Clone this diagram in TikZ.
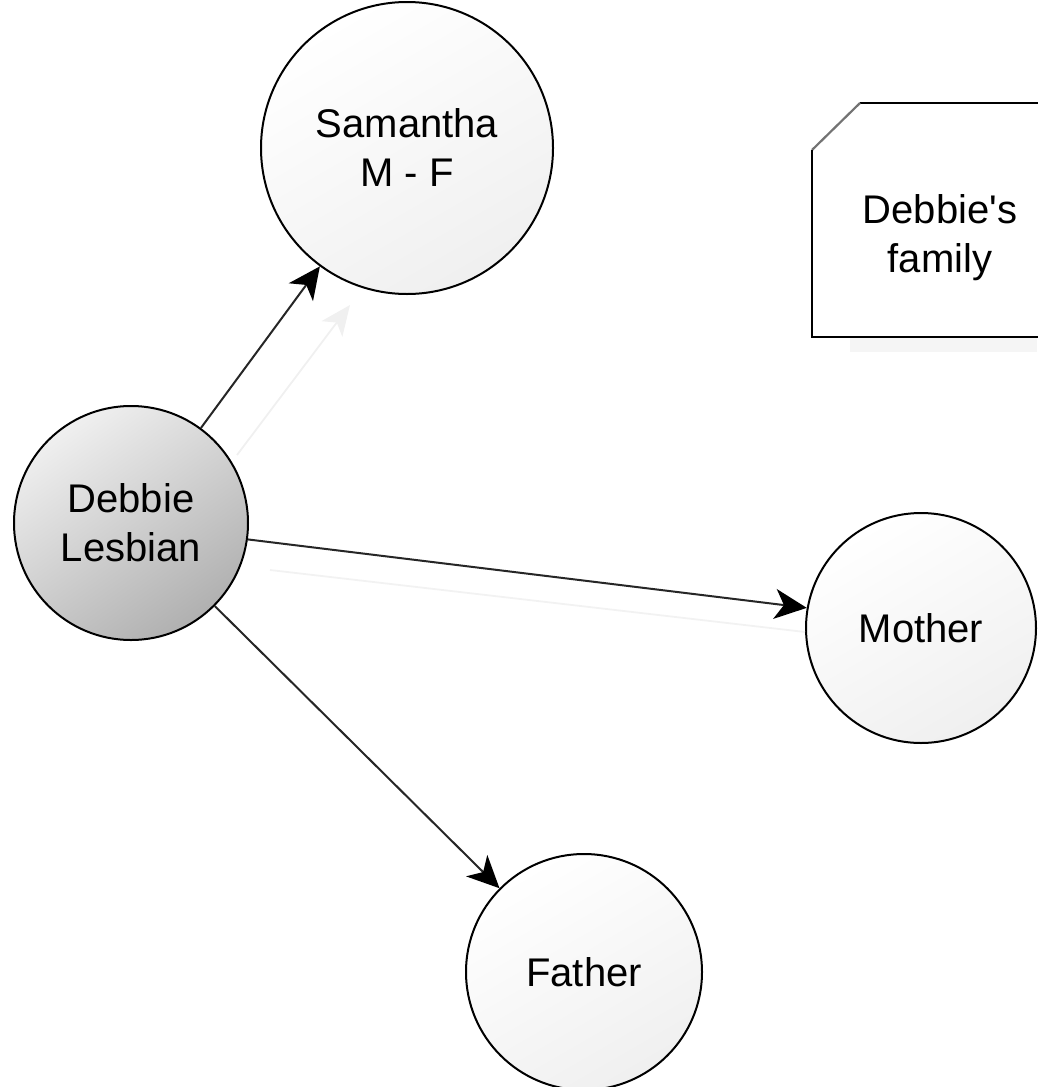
\documentclass[tikz,border=0pt]{standalone}
\usepackage{fontspec}
\setmainfont{Liberation Sans}
\usetikzlibrary{arrows.meta}
\begin{document}
\begin{tikzpicture}[x=1pt,y=-1pt,
  person/.style={circle, draw=black, line width=2pt, align=center,
    font=\fontsize{40}{49}\selectfont, top color=white, bottom color=gray!12, shading angle=30},
  conn/.style={draw=black!85, line width=2pt, -{Stealth[length=32pt,width=30pt,inset=9pt,fill=black,color=black]}},
  ghost/.style={draw=black!6, line width=1.8pt, -{Stealth[length=30pt,width=26pt,inset=8pt]}}]
\useasboundingbox (0,0) rectangle (1037,1087);
\node[person, minimum size=292pt] (sam) at (407,148) {Samantha\\M - F};
\node[person, minimum size=234pt, top color=gray!12, bottom color=gray!62, shading angle=35] (deb) at (131,523) {Debbie\\Lesbian};
\node[person, minimum size=230pt] (mot) at (921,628) {Mother};
\node[person, minimum size=236pt] (fat) at (584,972) {Father};
% ghost copies (faint)
\coordinate (g1) at (237,455);
\coordinate (g2) at (350,305);
\coordinate (g3) at (270,570);
\coordinate (g4) at (805,632);
\draw[ghost] (g1) -- (g2);
\draw[draw=black!5, line width=1.8pt] (g3) -- (g4);
\draw[conn] (deb) -- (sam);
\draw[conn] (deb.-8) -- (mot.170);
\draw[conn] (deb) -- (fat);
% note
\fill[black!4] (850,337) rectangle (1037,352);
\fill[white] (812,150) -- (860,103) -- (1040,103) -- (1040,337) -- (812,337) -- cycle;
\draw[line width=2.2pt] (1040,103) -- (860,103);
\draw[line width=2.2pt, black!55] (860,103) -- (812,150);
\draw[line width=2.2pt] (812,150) -- (812,337) -- (1040,337);
\node[align=center, font=\fontsize{40}{49}\selectfont] (note) at (940,238) {Debbie\textquotesingle s\\family};
\end{tikzpicture}
\end{document}
